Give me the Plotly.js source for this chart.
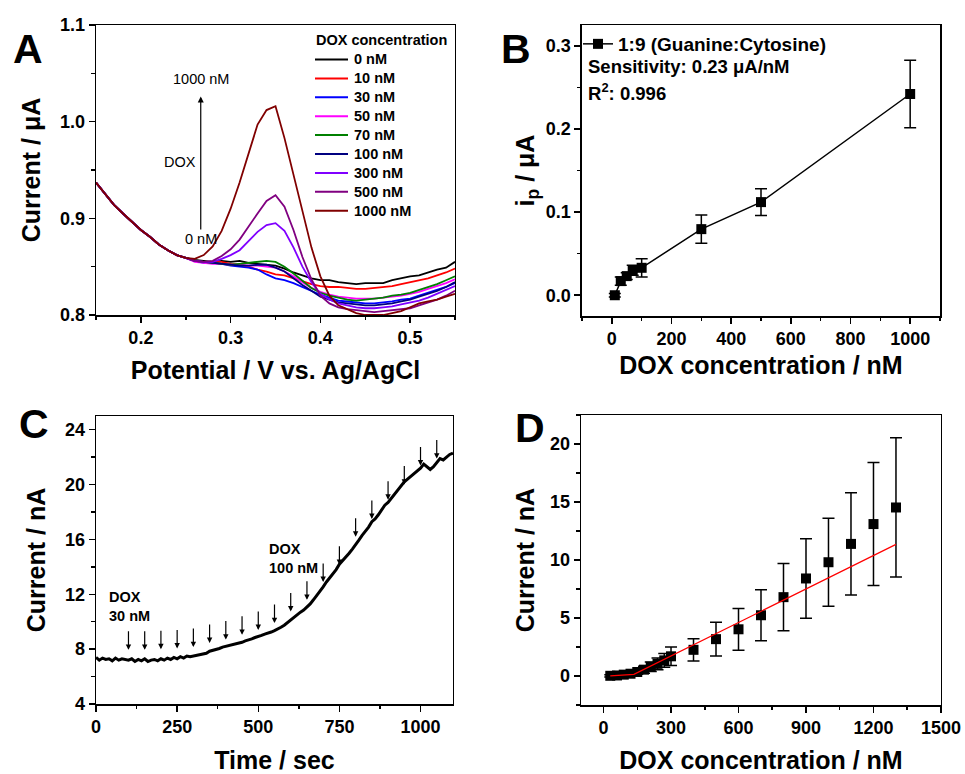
<!DOCTYPE html>
<html><head><meta charset="utf-8">
<script src="https://cdn.plot.ly/plotly-3.0.1.min.js"></script>
<style>html,body{margin:0;padding:0;background:#fff}</style>
</head><body><div id="chart" style="width:965px;height:774px"></div>
<script>
// ---------- Panel A: DPV curves ----------
const potential = [0.15,0.16,0.17,0.18,0.19,0.20,0.21,0.22,0.23,0.24,0.25,0.26,0.27,0.28,0.29,0.30,0.31,0.32,0.33,0.34,0.35,0.36,0.37,0.38,0.39,0.40,0.41,0.42,0.43,0.44,0.45,0.46,0.47,0.48,0.49,0.50,0.51,0.52,0.53,0.54,0.55];
const commonStart = [0.937,0.925,0.914,0.905,0.896,0.888,0.881,0.873,0.867,0.862,0.859];
const concLabels = ['0 nM','10 nM','30 nM','50 nM','70 nM','100 nM','300 nM','500 nM','1000 nM'];
const concColors = ['#000000','#FF0000','#0000FF','#FF00FF','#008000','#000080','#8000FF','#800080','#800000'];
const tail0    = [0.857,0.856,0.855,0.856,0.855,0.856,0.854,0.853,0.852,0.851,0.848,0.844,0.841,0.838,0.836,0.836,0.834,0.833,0.832,0.833,0.833,0.833,0.836,0.838,0.840,0.841,0.844,0.847,0.849,0.855];
const tail10   = [0.856,0.855,0.855,0.855,0.853,0.852,0.850,0.847,0.845,0.842,0.841,0.838,0.835,0.832,0.830,0.829,0.829,0.828,0.827,0.827,0.828,0.829,0.830,0.832,0.834,0.836,0.838,0.841,0.844,0.848];
const tail30   = [0.856,0.854,0.854,0.853,0.851,0.850,0.849,0.847,0.842,0.838,0.836,0.833,0.829,0.825,0.821,0.818,0.815,0.814,0.813,0.812,0.812,0.813,0.814,0.816,0.817,0.820,0.823,0.826,0.829,0.833];
const tail50   = [0.855,0.854,0.853,0.853,0.852,0.852,0.851,0.851,0.850,0.849,0.845,0.840,0.834,0.828,0.824,0.821,0.819,0.818,0.817,0.817,0.817,0.818,0.819,0.820,0.822,0.824,0.827,0.830,0.833,0.837];
const tail70   = [0.856,0.855,0.854,0.853,0.852,0.853,0.854,0.855,0.856,0.855,0.850,0.843,0.835,0.828,0.823,0.820,0.818,0.816,0.815,0.816,0.817,0.818,0.820,0.821,0.823,0.826,0.829,0.832,0.836,0.840];
const tail100  = [0.856,0.855,0.854,0.853,0.852,0.851,0.851,0.852,0.852,0.849,0.845,0.838,0.831,0.825,0.819,0.816,0.813,0.812,0.811,0.810,0.810,0.811,0.812,0.814,0.816,0.819,0.822,0.825,0.829,0.834];
const tail300  = [0.856,0.855,0.855,0.858,0.862,0.867,0.876,0.886,0.893,0.895,0.887,0.870,0.850,0.834,0.822,0.816,0.812,0.810,0.808,0.807,0.807,0.808,0.809,0.811,0.813,0.815,0.818,0.822,0.826,0.830];
const tail500  = [0.856,0.855,0.856,0.861,0.868,0.878,0.892,0.905,0.918,0.924,0.912,0.888,0.860,0.837,0.820,0.812,0.808,0.806,0.805,0.804,0.803,0.804,0.805,0.806,0.807,0.810,0.813,0.816,0.820,0.825];
const tail1000 = [0.858,0.862,0.871,0.887,0.910,0.937,0.967,0.997,1.012,1.016,0.983,0.945,0.905,0.870,0.840,0.820,0.810,0.806,0.802,0.800,0.800,0.800,0.802,0.804,0.808,0.812,0.814,0.816,0.819,0.822];
const tails = [tail0,tail10,tail30,tail50,tail70,tail100,tail300,tail500,tail1000];

// ---------- Panel B: calibration ----------
const bConc = [10,30,50,70,100,300,500,1000];
const bIp   = [0.000,0.017,0.023,0.030,0.033,0.0795,0.112,0.242];
const bErr  = [0.002,0.005,0.004,0.006,0.011,0.017,0.016,0.0405];

// ---------- Panel C: amperometric trace ----------
const cTime = [0,10,20,30,40,50,60,70,80,90,100,110,120,130,140,150,160,170,180,190,200,210,220,230,240,250,260,270,280,290,300,310,320,330,340,350,360,370,380,390,400,410,420,430,440,450,460,470,480,490,500,510,520,530,540,550,560,570,580,590,600,610,620,630,640,650,660,670,680,690,700,710,720,730,740,750,760,770,780,790,800,810,820,830,840,850,860,870,880,890,900,910,920,930,940,950,960,970,980,990,1000,1010,1020,1030,1040,1050,1060,1070,1080,1090,1100];
const cCurrent = [7.4,7.2,7.35,7.25,7.3,7.15,7.35,7.2,7.3,7.25,
  7.2,7.3,7.1,7.25,7.15,7.3,7.1,7.2,7.25,7.15,
  7.3,7.2,7.35,7.25,7.4,7.3,7.45,7.35,7.5,7.45,
  7.5,7.55,7.6,7.6,7.7,7.85,7.9,7.95,8.05,8.15,
  8.2,8.25,8.3,8.4,8.45,8.5,8.6,8.65,8.75,8.85,
  8.9,9.0,9.1,9.15,9.25,9.35,9.45,9.6,9.75,9.95,
  10.1,10.3,10.5,10.7,10.85,11.05,11.3,11.6,11.9,12.2,
  12.55,12.9,13.2,13.5,13.8,14.2,14.45,14.7,15.0,15.3,
  15.6,15.95,16.3,16.6,16.9,17.3,17.5,17.8,18.2,18.5,
  18.7,19.0,19.3,19.6,19.9,20.2,20.4,20.6,20.8,21.0,
  21.2,21.5,21.3,21.1,21.3,21.6,21.9,21.8,22.0,22.2,22.3];
const cArrowTime = [100,150,200,250,300,350,400,450,500,550,600,650,700,750,800,850,900,950,1000,1050];
const cArrowTip  = [7.95,7.95,8.0,8.05,8.15,8.45,8.7,9.05,9.4,9.9,10.75,11.6,12.9,14.15,16.2,17.5,18.9,20.0,21.4,21.9];

// ---------- Panel D: calibration from amperometry ----------
const dConc = [30,60,90,120,150,180,210,240,270,300,400,500,600,700,800,900,1000,1100,1200,1300];
const dCurrent = [0.02,0.05,0.12,0.2,0.35,0.55,0.8,1.05,1.35,1.7,2.26,3.18,4.03,5.24,6.8,8.41,9.81,11.39,13.1,14.53];
const dErr = [0.1,0.1,0.15,0.15,0.2,0.3,0.4,0.5,0.6,0.8,0.96,1.45,1.8,2.2,2.9,3.43,3.8,4.4,5.3,6.0];
const dFitX = [30,135,1300];
const dFitY = [0.02,0.15,11.35];

const F = 'Liberation Sans, Arial, sans-serif';

const traces = [];
tails.forEach((t,i)=>{
  traces.push({type:'scatter',mode:'lines',x:potential,y:commonStart.concat(t),name:concLabels[i],
    line:{color:concColors[i],width:1.8},xaxis:'x',yaxis:'y',showlegend:false});
});
traces.push({type:'scatter',mode:'lines+markers',x:bConc,y:bIp,name:'1:9 (Guanine:Cytosine)',
  line:{color:'#000',width:1.5},marker:{symbol:'square',size:10,color:'#000'},
  error_y:{type:'data',array:bErr,visible:true,color:'#000',thickness:1.5,width:6},
  xaxis:'x2',yaxis:'y2',legend:'legend2',showlegend:true});
traces.push({type:'scatter',mode:'lines',x:cTime,y:cCurrent,line:{color:'#000',width:3},
  xaxis:'x3',yaxis:'y3',showlegend:false});
traces.push({type:'scatter',mode:'markers',x:dConc,y:dCurrent,marker:{symbol:'square',size:10,color:'#000'},
  error_y:{type:'data',array:dErr,visible:true,color:'#000',thickness:1.5,width:6},
  xaxis:'x4',yaxis:'y4',showlegend:false});
traces.push({type:'scatter',mode:'lines',x:dFitX,y:dFitY,line:{color:'#FF0000',width:1.2},
  xaxis:'x4',yaxis:'y4',showlegend:false});

function axis(o){
  const base = {showline:true,mirror:true,linecolor:'#000',linewidth:1.5,ticks:'outside',ticklen:6,tickwidth:1.5,
    tickcolor:'#000',showgrid:false,zeroline:false,
    tickfont:{family:F,size:18,weight:700,color:'#000'},
    minor:{ticks:'outside',ticklen:3.5,tickwidth:1.5,tickcolor:'#000',dtick:o.minor,showgrid:false},
    title:{text:o.title,font:{family:F,size:o.ts||25,weight:700,color:'#000'},standoff:o.standoff||8},
    automargin:false};
  if (o.fmt) base.tickformat = o.fmt;
  return Object.assign(base,{domain:o.domain,range:o.range,dtick:o.dtick,tick0:o.tick0,anchor:o.anchor,tickmode:'linear'});
}

const annotations = [];
const shapes = [];
const letters = [['A',28,49],['B',516,49],['C',34,424],['D',530,428]];
letters.forEach(l=>annotations.push({xref:'paper',yref:'paper',x:l[1]/965,y:1-l[2]/774,text:l[0],showarrow:false,
  font:{family:F,size:41,weight:700,color:'#000'},xanchor:'center',yanchor:'middle'}));
// Panel A legend (drawn as lines + labels)
annotations.push({xref:'paper',yref:'paper',x:314/965,y:1-40/774,xanchor:'left',yanchor:'middle',text:'DOX concentration',
  showarrow:false,font:{family:F,size:14.5,weight:700,color:'#000'}});
concLabels.forEach((lab,i)=>{
  const yy = 1-(59.5+i*18.9)/774;
  shapes.push({type:'line',xref:'paper',yref:'paper',x0:315/965,x1:348/965,y0:yy,y1:yy,line:{color:concColors[i],width:2}});
  annotations.push({xref:'paper',yref:'paper',x:352/965,y:yy,xanchor:'left',yanchor:'middle',text:lab,showarrow:false,
    font:{family:F,size:14.5,weight:700,color:'#000'}});
});
// Panel A arrow
annotations.push({xref:'x',yref:'y',axref:'x',ayref:'y',x:0.2667,y:1.026,ax:0.2667,ay:0.887,text:'',showarrow:true,
  arrowhead:2,arrowsize:1,arrowwidth:1.2,arrowcolor:'#000'});
annotations.push({xref:'x',yref:'y',x:0.2667,y:1.044,text:'1000 nM',showarrow:false,font:{family:F,size:14.5,color:'#000'}});
annotations.push({xref:'x',yref:'y',x:0.2433,y:0.958,text:'DOX',showarrow:false,font:{family:F,size:14.5,color:'#000'}});
annotations.push({xref:'x',yref:'y',x:0.2667,y:0.879,text:'0 nM',showarrow:false,font:{family:F,size:14.5,color:'#000'}});
// Panel B texts
annotations.push({xref:'paper',yref:'paper',x:586/965,y:1-67/774,xanchor:'left',yanchor:'middle',text:'Sensitivity: 0.23 μA/nM',
  showarrow:false,font:{family:F,size:18.5,weight:700,color:'#000'}});
annotations.push({xref:'paper',yref:'paper',x:586/965,y:1-92/774,xanchor:'left',yanchor:'middle',text:'R<sup>2</sup>: 0.996',
  showarrow:false,font:{family:F,size:18.5,weight:700,color:'#000'}});
// Panel C arrows and texts
cArrowTime.forEach((t,i)=>annotations.push({xref:'x3',yref:'y3',x:t,y:cArrowTip[i],ax:0,ay:-20,text:'',showarrow:true,
  arrowhead:2,arrowsize:0.9,arrowwidth:1.2,arrowcolor:'#000'}));
annotations.push({xref:'x3',yref:'y3',x:34,y:11.1,xanchor:'left',yanchor:'middle',align:'left',text:'DOX<br>30 nM',showarrow:false,
  font:{family:F,size:14.5,weight:700,color:'#000'}});
annotations.push({xref:'x3',yref:'y3',x:527,y:14.6,xanchor:'left',yanchor:'middle',align:'left',text:'DOX<br>100 nM',showarrow:false,
  font:{family:F,size:14.5,weight:700,color:'#000'}});

const layout = {
  width:965,height:774,margin:{l:0,r:0,t:0,b:0},paper_bgcolor:'#fff',plot_bgcolor:'#fff',
  font:{family:F,color:'#000'},
  xaxis:axis({domain:[0.0995,0.4715],range:[0.15,0.55],dtick:0.1,tick0:0.2,minor:0.05,anchor:'y',title:'Potential / V vs. Ag/AgCl',standoff:14,fmt:'.1f'}),
  yaxis:axis({domain:[0.593,0.9677],range:[0.8,1.1],dtick:0.1,tick0:0.8,minor:0.05,anchor:'x',title:'Current / μA',standoff:12,fmt:'.1f'}),
  xaxis2:axis({domain:[0.6031,0.9741],range:[-100,1100],dtick:200,tick0:0,minor:100,anchor:'y2',title:'DOX concentration / nM',standoff:8}),
  yaxis2:axis({domain:[0.5917,0.9677],range:[-0.025,0.325],dtick:0.1,tick0:0,minor:0.05,anchor:'x2',title:'i<sub>p</sub> / μA',standoff:4,fmt:'.1f'}),
  xaxis3:axis({domain:[0.0995,0.4694],range:[0,1100],dtick:250,tick0:0,minor:125,anchor:'y3',title:'Time / sec',standoff:26}),
  yaxis3:axis({domain:[0.0904,0.4625],range:[4,25],dtick:4,tick0:4,minor:2,anchor:'x3',title:'Current / nA',standoff:12}),
  xaxis4:axis({domain:[0.6021,0.9751],range:[-100,1500],dtick:300,tick0:0,minor:150,anchor:'y4',title:'DOX concentration / nM',standoff:26}),
  yaxis4:axis({domain:[0.0891,0.4638],range:[-2.5,22.5],dtick:5,tick0:0,minor:2.5,anchor:'x4',title:'Current / nA',standoff:8}),
  legend2:{x:578/965,y:1-25/774,xanchor:'left',yanchor:'top',bgcolor:'rgba(0,0,0,0)',borderwidth:0,itemwidth:30,
    font:{family:F,size:19,weight:700,color:'#000'}},
  shapes:shapes,
  annotations:annotations
};
Plotly.newPlot('chart',traces,layout,{displayModeBar:false,staticPlot:true});
</script></body></html>
